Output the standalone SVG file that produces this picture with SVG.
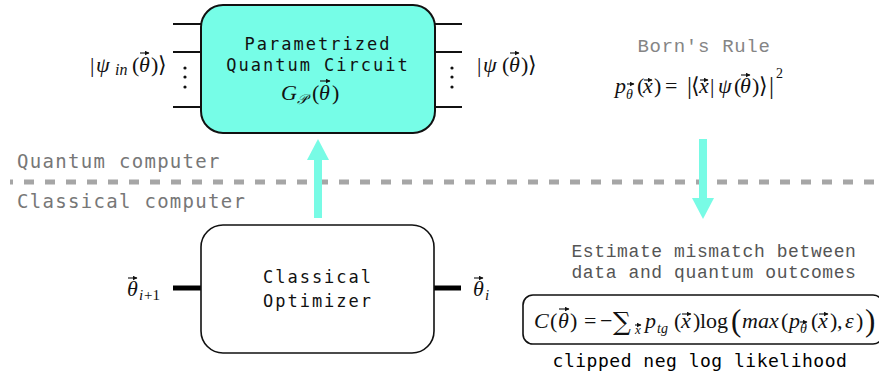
<svg xmlns="http://www.w3.org/2000/svg" width="879" height="374" viewBox="0 0 879 374">
<defs>
<style>
.lbl{font-family:"DejaVu Sans Mono","Liberation Mono",monospace;font-size:17px;letter-spacing:2px;fill:#111;text-anchor:middle}
.cmp{font-family:"DejaVu Sans Mono","Liberation Mono",monospace;font-size:19px;letter-spacing:1.3px;fill:#777}
.thin{font-family:"Liberation Mono","Courier New",monospace;text-anchor:middle}
.m{font-family:"Liberation Serif","DejaVu Serif",serif;font-size:22px;fill:#111}
.mi{font-style:italic}
.wire{stroke:#111;stroke-width:2;fill:none}
.thick{stroke:#000;stroke-width:5;fill:none}
.arr{fill:#78fbe5}
.v{stroke:#111;stroke-width:1.1;fill:none;marker-end:url(#vh)}
</style>
<marker id="vh" markerUnits="userSpaceOnUse" markerWidth="5" markerHeight="5" refX="4" refY="2.5" orient="auto">
<path d="M0,0.3 L4.5,2.5 L0,4.7 Z" fill="#111"/>
</marker>
</defs>

<!-- divider -->
<g id="divider">
<line x1="10" y1="182" x2="879" y2="182" stroke="#a6a6a6" stroke-width="5" stroke-dasharray="10 11" stroke-dashoffset="7"/>
<text class="cmp" x="17" y="168">Quantum computer</text>
<text class="cmp" x="17" y="208">Classical computer</text>
</g>

<!-- connectors -->
<g id="connectors">
<line class="wire" x1="173" y1="24" x2="201" y2="24"/>
<line class="wire" x1="173" y1="52" x2="201" y2="52"/>
<line class="wire" x1="173" y1="107" x2="201" y2="107"/>
<line class="wire" x1="435" y1="24" x2="462" y2="24"/>
<line class="wire" x1="435" y1="52" x2="462" y2="52"/>
<line class="wire" x1="435" y1="107" x2="462" y2="107"/>
<line class="thick" x1="173" y1="288" x2="202" y2="288"/>
<line class="thick" x1="433" y1="288" x2="461" y2="288"/>
<rect class="arr" x="314" y="159" width="8" height="59"/>
<polygon class="arr" points="307,160 329,160 318,139"/>
<rect class="arr" x="699" y="139" width="8" height="60"/>
<polygon class="arr" points="692,198 714,198 703,219"/>
</g>

<!-- quantum circuit node -->
<g id="pqc">
<rect x="201" y="5" width="234" height="128" rx="22" fill="#76fde7" stroke="#111" stroke-width="2"/>
<text class="lbl" x="318" y="50">Parametrized</text>
<text class="lbl" x="318" y="71">Quantum Circuit</text>
<text class="m" font-size="23"><tspan class="mi" x="281" y="100">G</tspan><tspan class="mi" x="297" y="104" font-size="14">𝒫</tspan><tspan x="312" y="100">(</tspan><tspan class="mi" x="319" y="100">θ</tspan><tspan x="332" y="100">)</tspan></text>
<path class="v" d="M320,81 h10"/>
<g fill="#111">
<circle cx="185" cy="68" r="1.6"/><circle cx="185" cy="77" r="1.6"/><circle cx="185" cy="87" r="1.6"/>
<circle cx="452" cy="68" r="1.6"/><circle cx="452" cy="77" r="1.6"/><circle cx="452" cy="87" r="1.6"/>
</g>
</g>

<!-- input ket -->
<g id="ket-in">
<text class="m" font-size="23"><tspan x="90" y="72">|</tspan><tspan class="mi" x="96" y="72">ψ</tspan><tspan class="mi" x="115" y="75" font-size="16">in</tspan><tspan x="132" y="72">(</tspan><tspan class="mi" x="139" y="72">θ</tspan><tspan x="151" y="72">)</tspan><tspan x="158" y="72">⟩</tspan></text>
<path class="v" d="M140,53 h9"/>
</g>

<!-- output ket -->
<g id="ket-out">
<text class="m" font-size="23"><tspan x="477" y="72">|</tspan><tspan class="mi" x="483" y="72">ψ</tspan><tspan x="502" y="72">(</tspan><tspan class="mi" x="509" y="72">θ</tspan><tspan x="521" y="72">)</tspan><tspan x="528" y="72">⟩</tspan></text>
<path class="v" d="M510,53 h9"/>
</g>

<!-- Born rule -->
<g id="born">
<text class="thin" x="704" y="52" font-size="19" letter-spacing="0.7" fill="#858585">Born's Rule</text>
<text class="m"><tspan class="mi" x="615" y="93">p</tspan><tspan class="mi" x="626" y="99" font-size="14">θ</tspan><tspan x="637" y="93">(</tspan><tspan class="mi" x="643" y="93">x</tspan><tspan x="654" y="93">)</tspan><tspan x="665" y="93">=</tspan><tspan x="687" y="94" font-size="25">|</tspan><tspan x="691" y="93">⟨</tspan><tspan class="mi" x="699" y="93">x</tspan><tspan x="710" y="93">|</tspan><tspan class="mi" x="718" y="93">ψ</tspan><tspan x="734" y="93">(</tspan><tspan class="mi" x="740" y="93">θ</tspan><tspan x="752" y="93">)</tspan><tspan x="759" y="93">⟩</tspan><tspan x="769" y="94" font-size="25">|</tspan><tspan x="776" y="78" font-size="14">2</tspan></text>
<path class="v" d="M627,84 h7"/>
<path class="v" d="M644,80 h8"/>
<path class="v" d="M700,80 h8"/>
<path class="v" d="M741,75 h9"/>
</g>

<!-- optimizer -->
<g id="optimizer">
<rect x="201" y="225" width="233" height="128" rx="22" fill="#fff" stroke="#111" stroke-width="1.6"/>
<text class="lbl" x="318" y="283">Classical</text>
<text class="lbl" x="318" y="307">Optimizer</text>
</g>

<g id="theta-next">
<text class="m"><tspan class="mi" x="127" y="296">θ</tspan><tspan class="mi" x="139" y="300" font-size="15">i</tspan><tspan x="144" y="300" font-size="15">+1</tspan></text>
<path class="v" d="M128,278 h9"/>
</g>
<g id="theta-i">
<text class="m"><tspan class="mi" x="473" y="296">θ</tspan><tspan class="mi" x="485" y="300" font-size="15">i</tspan></text>
<path class="v" d="M474,278 h9"/>
</g>

<!-- cost -->
<g id="cost">
<text class="thin" x="714" y="257" font-size="18" letter-spacing="0.6" fill="#555">Estimate mismatch between</text>
<text class="thin" x="714" y="278" font-size="18" letter-spacing="0.6" fill="#555">data and quantum outcomes</text>
<rect x="523" y="295" width="360" height="49" rx="10" fill="#fff" stroke="#111" stroke-width="1.6"/>
<text class="m" font-size="23"><tspan class="mi" x="534" y="328">C</tspan><tspan x="550" y="328">(</tspan><tspan class="mi" x="558" y="328">θ</tspan><tspan x="570" y="328">)</tspan><tspan x="584" y="328">=</tspan><tspan x="600" y="328">−</tspan><tspan x="613" y="330" font-family="DejaVu Serif,serif" font-size="25">∑</tspan><tspan class="mi" x="635" y="334" font-size="13">x</tspan><tspan class="mi" x="645" y="328">p</tspan><tspan class="mi" x="657" y="333" font-size="14">tg</tspan><tspan x="674" y="328">(</tspan><tspan class="mi" x="681" y="328">x</tspan><tspan x="693" y="328">)</tspan><tspan x="700" y="328">log</tspan><tspan x="731" y="331" font-size="31">(</tspan><tspan class="mi" x="742" y="328">max</tspan><tspan x="781" y="328">(</tspan><tspan class="mi" x="789" y="328">p</tspan><tspan class="mi" x="800" y="333" font-size="14">θ</tspan><tspan x="811" y="328">(</tspan><tspan class="mi" x="818" y="328">x</tspan><tspan x="830" y="328">)</tspan><tspan x="837" y="328">,</tspan><tspan class="mi" x="845" y="328">ε</tspan><tspan x="856" y="328">)</tspan><tspan x="865" y="331" font-size="31">)</tspan></text>
<path class="v" d="M559,309 h10"/>
<path class="v" d="M635,325 h6"/>
<path class="v" d="M682,314 h9"/>
<path class="v" d="M800,322 h7"/>
<path class="v" d="M819,314 h9"/>
<text x="700" y="367" font-family="DejaVu Sans Mono,Liberation Mono,monospace" font-size="18" letter-spacing="0.5" text-anchor="middle" fill="#000">clipped neg log likelihood</text>
</g>
</svg>
